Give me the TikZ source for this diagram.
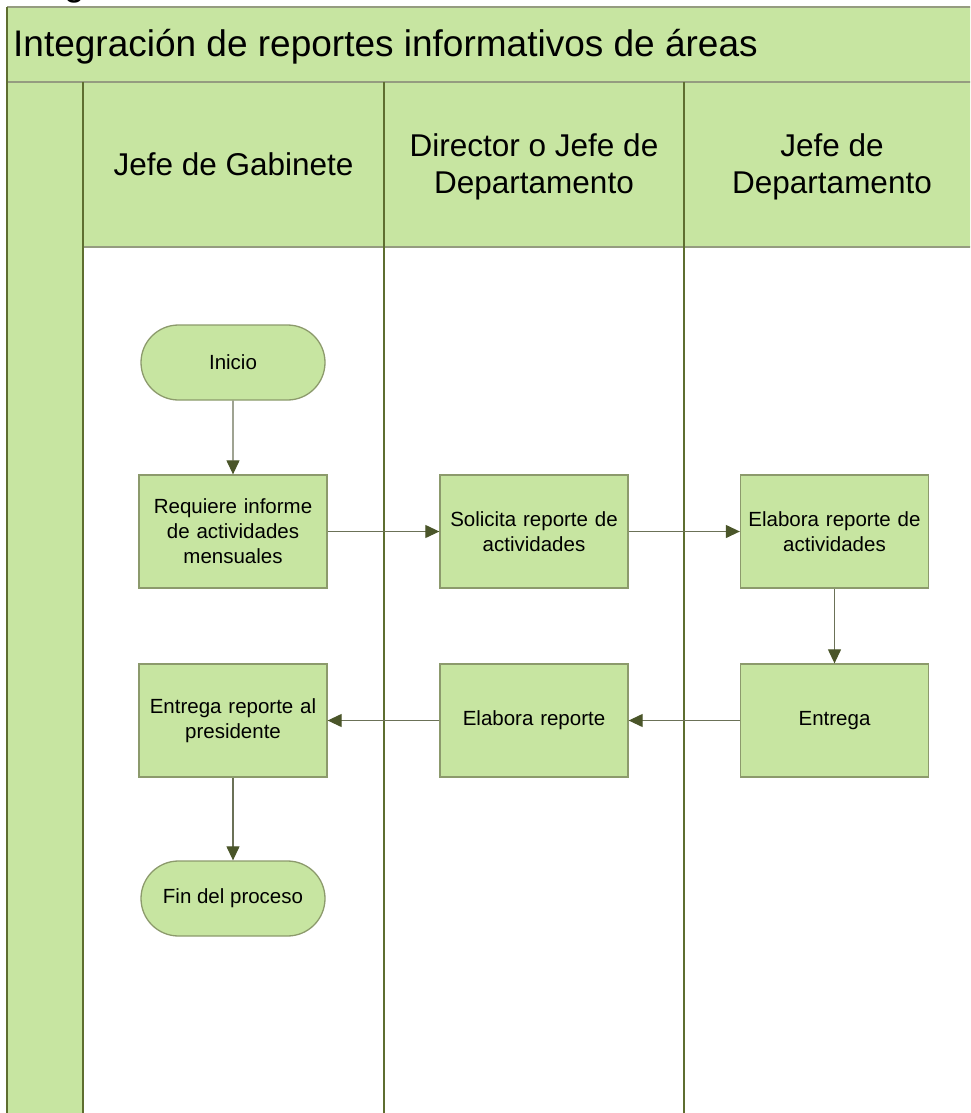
\documentclass[tikz,border=0pt]{standalone}
\usepackage{fontspec}
\setmainfont{Liberation Sans}
\usetikzlibrary{arrows.meta,shapes.misc}

\definecolor{lanefill}{HTML}{C7E5A1}
\definecolor{boxline}{HTML}{8C9A6C}
\definecolor{laneline}{HTML}{5E6E30}
\definecolor{frameline}{HTML}{959C80}
\definecolor{arrowline}{HTML}{6B7157}
\definecolor{tipfill}{HTML}{4A5529}

\tikzset{
  procbox/.style={draw=boxline, line width=1.3pt, fill=lanefill,
    minimum width=188pt, minimum height=113pt, inner sep=2pt,
    align=center, text width=184pt,
    font=\fontsize{20.5}{25}\selectfont},
  termbox/.style={rounded rectangle, draw=boxline, line width=1.3pt, fill=lanefill,
    minimum width=188pt, minimum height=75pt, inner sep=2pt,
    font=\fontsize{20.5}{25}\selectfont},
  flow/.style={draw=arrowline, line width=1.2pt,
    -{Triangle[length=14pt,width=13pt,fill=tipfill,color=tipfill]}},
  lanehead/.style={align=center, inner sep=0pt, anchor=base,
    font=\fontsize{31.5}{37}\selectfont},
  laneline/.style={draw=laneline, line width=1.4pt},
  frame/.style={draw=frameline, line width=2pt}
}

\begin{document}
\begin{tikzpicture}[x=1pt, y=-1pt]
\useasboundingbox (0,0) rectangle (970,1113);
\clip (0,0) rectangle (970,1113);

% pool background: title band, left strip, lane headers
\fill[lanefill] (7,7) rectangle (990,82);
\fill[lanefill] (7,82) rectangle (83,1130);
\fill[lanefill] (83,82) rectangle (990,247);

% heading cut at the top edge
\node[anchor=base west, inner sep=0pt, font=\fontsize{37}{44}\selectfont] (cut) at (64,-4) {g};

% frame lines
\draw[frame] (7,7) -- (990,7);
\draw[frame] (7,82) -- (990,82);
\draw[draw=frameline, line width=1.4pt] (83,247) -- (990,247);
\draw[laneline] (7,7) -- (7,1130);
\draw[laneline] (83,82) -- (83,1130);
\draw[laneline] (384,82) -- (384,1130);
\draw[laneline] (684,82) -- (684,1130);

% pool title
\node[anchor=base west, inner sep=0pt, font=\fontsize{37}{44}\selectfont] (title) at (13,57)
  {Integración de reportes informativos de áreas};

% lane titles (base anchor sits on the last line)
\node[lanehead] (lane1) at (233.5,175) {Jefe de Gabinete};
\node[lanehead] (lane2) at (534,193) {Director o Jefe de\\Departamento};
\node[lanehead] (lane3) at (832,193) {Jefe de\\Departamento};

% flow nodes
\node[termbox] (inicio) at (233,362.5) {Inicio};
\node[procbox] (req) at (233,531.5) {Requiere informe\\de actividades\\mensuales};
\node[procbox] (sol) at (534,531.5) {Solicita reporte de\\actividades};
\node[procbox] (elab) at (834.5,531.5) {Elabora reporte de\\actividades};
\node[procbox] (ent) at (834.5,720.5) {Entrega};
\node[procbox] (elrep) at (534,720.5) {Elabora reporte};
\node[procbox] (entpres) at (233,720.5) {Entrega reporte al\\presidente};
\node[termbox] (fin) at (233,898.5) {Fin del proceso};

% connectors
\draw[flow] (inicio) -- (req);
\draw[flow] (req) -- (sol);
\draw[flow] (sol) -- (elab);
\draw[flow] (elab) -- (ent);
\draw[flow] (ent) -- (elrep);
\draw[flow] (elrep) -- (entpres);
\draw[flow] (entpres) -- (fin);
\end{tikzpicture}
\end{document}
